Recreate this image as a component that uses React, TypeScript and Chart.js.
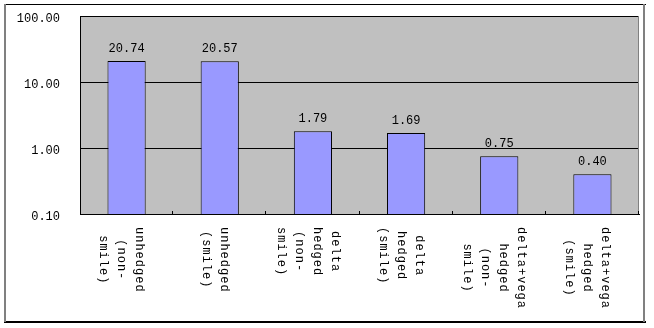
import React, { useEffect, useRef } from "react";
import { Chart, registerables } from "chart.js";

Chart.register(...registerables);

const categories: string[][] = [
  ["unhedged", "(non-", "smile)"],
  ["unhedged", "(smile)"],
  ["delta", "hedged", "(non-", "smile)"],
  ["delta", "hedged", "(smile)"],
  ["delta+vega", "hedged", "(non-", "smile)"],
  ["delta+vega", "hedged", "(smile)"],
];
const values = [20.74, 20.57, 1.79, 1.69, 0.75, 0.4];
const yTicks = [0.1, 1, 10, 100];

const FONT = '"Liberation Mono", "DejaVu Sans Mono", monospace';

const decor = {
  id: "decor",
  beforeDraw(chart: any) {
    const { ctx, chartArea: a, width, height } = chart;
    ctx.save();
    ctx.fillStyle = "#ffffff";
    ctx.fillRect(0, 0, width, height);
    // outer frame
    ctx.fillStyle = "#000000";
    ctx.fillRect(4, 4, 642, 1);
    ctx.fillRect(4, 321, 642, 2);
    ctx.fillStyle = "#808080";
    ctx.fillRect(4, 4, 2, 318);
    ctx.fillRect(643, 4, 2, 318);
    // plot background
    ctx.fillStyle = "#C0C0C0";
    ctx.fillRect(a.left, a.top, a.right - a.left, a.bottom - a.top);
    ctx.restore();
  },
  afterDatasetsDraw(chart: any) {
    const { ctx, chartArea: a } = chart;
    const xs = chart.scales.x;
    ctx.save();
    // right plot border
    ctx.fillStyle = "#808080";
    ctx.fillRect(a.right - 1, a.top, 1, a.bottom - a.top);
    // inward tick marks at category boundaries
    ctx.strokeStyle = "#000";
    ctx.lineWidth = 1;
    const n = categories.length;
    const step = (a.right - a.left) / n;
    for (let k = 1; k <= n; k++) {
      const x = Math.round(a.left + k * step) - 0.5;
      ctx.beginPath();
      ctx.moveTo(x, a.bottom);
      ctx.lineTo(x, a.bottom - 3);
      ctx.stroke();
    }
    // data labels
    ctx.fillStyle = "#000";
    ctx.font = `12px ${FONT}`;
    ctx.textAlign = "center";
    ctx.textBaseline = "middle";
    const meta = chart.getDatasetMeta(0);
    meta.data.forEach((bar: any, i: number) => {
      ctx.fillText(values[i].toFixed(2), bar.x, bar.y - 12.5);
    });
    // rotated category labels
    (ctx as any).letterSpacing = "1px";
    ctx.textAlign = "left";
    categories.forEach((lines, i) => {
      const cx = xs.getPixelForValue(i) - 5;
      const widths = lines.map((l) => ctx.measureText(l).width);
      const maxW = Math.max(...widths);
      ctx.save();
      ctx.translate(cx, 227);
      ctx.rotate(Math.PI / 2);
      lines.forEach((l, j) => {
        const ry = (j - (lines.length - 1) / 2) * 18;
        ctx.fillText(l, (maxW - widths[j]) / 2, ry);
      });
      ctx.restore();
    });
    ctx.restore();
  },
};

export default function App() {
  const ref = useRef<HTMLCanvasElement | null>(null);
  useEffect(() => {
    document.body.style.margin = "0";
    const canvas = ref.current!;
    const chart = new Chart(canvas, {
      type: "bar",
      data: {
        labels: categories.map((c) => c.join(" ")),
        datasets: [
          {
            data: values,
            backgroundColor: "#9999FF",
            borderColor: "#000000",
            borderWidth: 1,
            categoryPercentage: 1,
            barPercentage: 0.41,
          },
        ],
      },
      options: {
        responsive: false,
        animation: false,
        events: [],
        layout: { padding: { top: 16, right: 15, bottom: 0, left: 0 } },
        plugins: { legend: { display: false }, tooltip: { enabled: false } },
        scales: {
          x: {
            grid: { display: false },
            border: { display: true, color: "#000" },
            ticks: { display: false },
            afterFit: (s: any) => {
              s.height = 114;
              s.paddingLeft = 0;
              s.paddingRight = 0;
            },
          },
          y: {
            type: "logarithmic",
            min: 0.1,
            max: 100,
            afterBuildTicks: (s: any) => {
              s.ticks = yTicks.map((v) => ({ value: v }));
            },
            afterFit: (s: any) => {
              s.width = 80;
              s.paddingTop = 0;
              s.paddingBottom = 0;
            },
            grid: { color: "#000", lineWidth: 1, drawTicks: false },
            border: { display: true, color: "#000" },
            ticks: {
              color: "#000",
              font: { family: FONT, size: 12 },
              padding: 20,
              labelOffset: 3,
              callback: (v: any) => Number(v).toFixed(2),
            },
          },
        },
      },
      plugins: [decor],
    });
    return () => chart.destroy();
  }, []);
  return (
    <div style={{ width: 654, height: 328 }}>
      <canvas ref={ref} width={654} height={328} style={{ display: "block" }} />
    </div>
  );
}
